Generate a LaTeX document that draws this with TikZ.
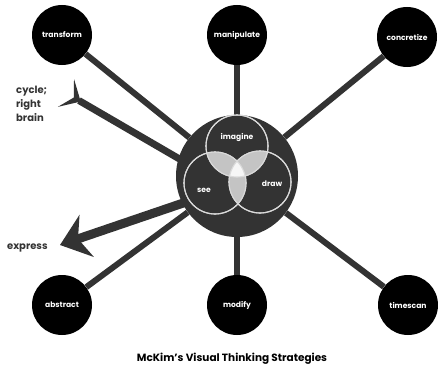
\documentclass[tikz,border=0pt]{standalone}
\usepackage{fontspec}
\setmainfont{Poppins}
\usetikzlibrary{arrows.meta}
\definecolor{hubgray}{HTML}{333333}
\definecolor{vennline}{HTML}{DADADA}
\definecolor{pairgray}{HTML}{C4C4C4}
\definecolor{triowhite}{HTML}{F6F6F6}
\begin{document}
\begin{tikzpicture}[x=1pt, y=-1pt,
        strategy/.style={circle, fill=black, minimum size=60pt, inner sep=0pt, text=white, font=\fontsize{7.6}{8}\selectfont\bfseries},
        spoke/.style={draw=hubgray, line width=6pt},
        venn/.style={circle, draw=vennline, line width=1.1pt, minimum size=62pt, inner sep=0pt},
        vlabel/.style={text=white, font=\fontsize{7.6}{8}\selectfont\bfseries},
        side/.style={text=hubgray, font=\fontsize{10}{14}\selectfont\bfseries, align=left, inner sep=0pt}]
        \useasboundingbox (0,0) rectangle (438,369);
        \coordinate (cyc) at (66,93);
        \coordinate (cyc-in) at (195,168);
        \coordinate (exp) at (60,245);
        \coordinate (exp-in) at (195,199);
        \draw [hubgray, line width=7pt, {Stealth[reversed, length=17pt, width=32pt, inset=9pt]}-] (cyc) -- (cyc-in);
        \draw [hubgray, line width=9pt, -{Stealth[length=28pt, width=44pt, inset=9pt]}] (exp-in) -- (exp);
        \node [circle, fill=hubgray, minimum size=122pt] (hub) at (237,176) {};
        \node [strategy] (transform) at (62,35) {transform};
        \node [strategy] (manipulate) at (237,35) {manipulate};
        \node [strategy] (concretize) at (407,37) {concretize};
        \node [strategy] (abstract) at (62,305) {abstract};
        \node [strategy] (modify) at (237,305) {modify};
        \node [strategy] (timescan) at (408,305) {timescan};
        \draw [spoke] (hub) -- (transform);
        \draw [spoke] (hub) -- (manipulate);
        \draw [spoke] (hub) -- (concretize);
        \draw [spoke] (hub) -- (abstract);
        \draw [spoke] (hub) -- (modify);
        \draw [spoke] (hub) -- (timescan);
        \node [venn] (imagine) at (237,146) {};
        \node [venn] (see) at (215,183) {};
        \node [venn] (draw) at (260,182) {};
        \begin{scope}
                \clip (imagine.center) circle (31pt);
                \fill [pairgray] (see.center) circle (31pt);
                \fill [pairgray] (draw.center) circle (31pt);
        \end{scope}
        \begin{scope}
                \clip (see.center) circle (31pt);
                \fill [pairgray] (draw.center) circle (31pt);
                \clip (draw.center) circle (31pt);
                \fill [triowhite] (imagine.center) circle (31pt);
        \end{scope}
        \draw [vennline, line width=1.1pt] (imagine.center) circle (31pt);
        \draw [vennline, line width=1.1pt] (see.center) circle (31pt);
        \draw [vennline, line width=1.1pt] (draw.center) circle (31pt);
        \node [vlabel] (imagine-t) at (237,137) {imagine};
        \node [vlabel] (see-t) at (204,190) {see};
        \node [vlabel] (draw-t) at (272,184) {draw};
        \node [side, anchor=north west] (cycle-t) at (16,86) {cycle;\\right\\brain};
        \node [side, anchor=west] (express-t) at (7,248) {express};
        \node [font=\fontsize{10.5}{12}\selectfont\bfseries] (title) at (232,359) {McKim's Visual Thinking Strategies};
\end{tikzpicture}
\end{document}
